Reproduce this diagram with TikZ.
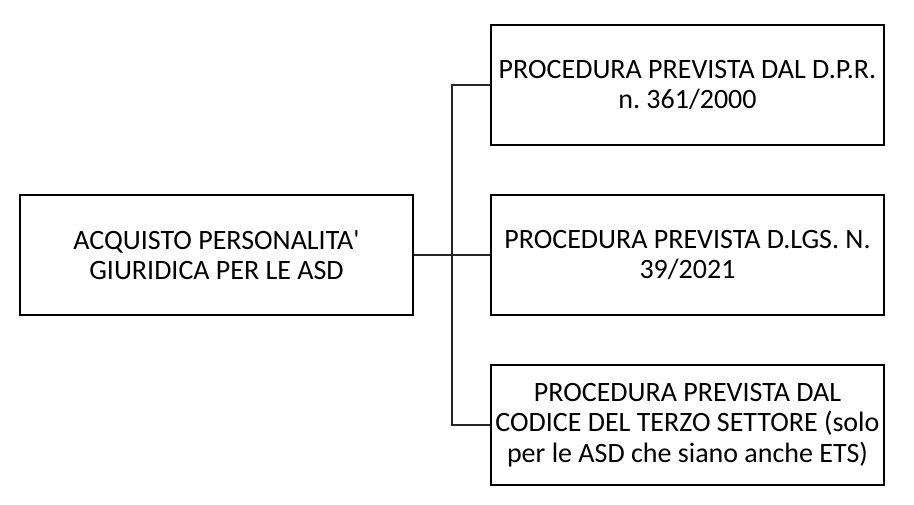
\documentclass[tikz,border=0pt]{standalone}
\usepackage{fontspec}
\setmainfont{Carlito}
\usepackage{tikz}
\frenchspacing

\begin{document}
\begin{tikzpicture}[x=1pt,y=-1pt,
  box/.style={draw=black,line width=2pt,minimum width=393pt,minimum height=120pt,
    align=center,inner sep=2pt,font=\fontsize{28}{30.5}\selectfont},
  link/.style={draw=black!85,line width=1.6pt}]
\useasboundingbox (0,0) rectangle (914,505);
\node[box] (asd) at (216.5,255) {ACQUISTO PERSONALITA\textquotesingle\\GIURIDICA PER LE ASD};
\node[box] (dpr) at (687.5,85) {PROCEDURA PREVISTA DAL D.P.R.\\n. 361/2000};
\node[box] (dlgs) at (687.5,255) {PROCEDURA PREVISTA D.LGS. N.\\39/2021};
\node[box] (cts) at (687.5,425) {PROCEDURA PREVISTA DAL\\CODICE DEL TERZO SETTORE (solo\\per le ASD che siano anche ETS)};
\coordinate (fork) at (452,255);
% the branches
\draw[link] (asd.east) -- (fork);
\draw[link] (dpr.west) -| (fork) |- (cts.west);
\draw[link] (fork) -- (dlgs.west);
\end{tikzpicture}
\end{document}
